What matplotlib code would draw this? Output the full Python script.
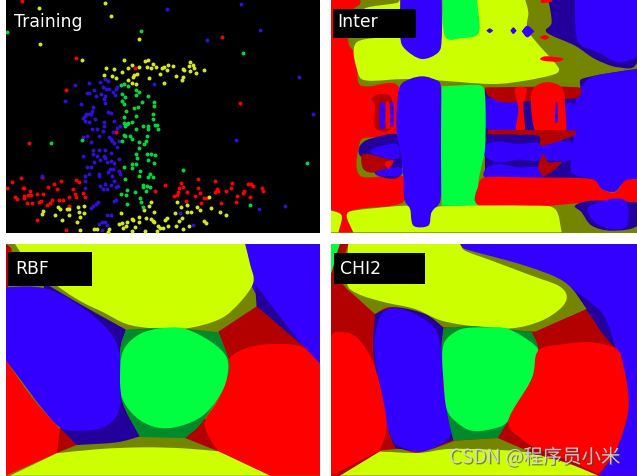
import numpy as np
import matplotlib
matplotlib.use("Agg")
import matplotlib.pyplot as plt
import matplotlib.patheffects as pe
from matplotlib.path import Path
from matplotlib.patches import PathPatch, Rectangle

RED = "#ff0000"
YELLOW = "#ccff00"
GREEN = "#00ff40"
BLUE = "#3300ff"
D_RED = "#b30000"
OLIVE = "#748500"
D_GREEN = "#008a2c"
D_BLUE = "#23009c"

# training samples (3x zoom pixels)
red_pts = [(67,7),(666,114),(229,177),(199,274),(404,208),(720,312),(347,399),(88,433),(127,535),(37,550),(62,538),(20,567),(68,566),(72,567),(90,575),(110,584),(130,585),(144,565),(163,555),(184,546),(171,570),(218,570),(228,543),(237,550),(248,581),(226,585),(228,595),(256,595),(44,595),(50,600),(73,590),(85,588),(92,588),(72,597),(82,612),(97,612),(118,608),(124,605),(142,618),(150,612),(157,604),(177,604),(190,603),(208,595),(207,621),(110,662),(198,692),(495,558),(544,552),(548,565),(536,568),(534,578),(530,587),(522,592),(560,580),(595,540),(593,568),(600,582),(585,590),(557,607),(604,612),(612,597),(620,598),(646,546),(650,570),(655,575),(644,578),(678,577),(696,553),(694,567),(711,590),(733,577),(729,583),(745,556),(752,556),(758,560),(786,567),(789,577),(751,594),(709,610),(664,613),(466,577)]
yellow_pts = [(116,28),(314,13),(334,50),(417,121),(121,136),(247,183),(371,183),(317,208),(342,211),(365,218),(385,207),(395,197),(418,204),(436,185),(443,183),(460,195),(442,203),(454,208),(469,205),(485,207),(491,204),(503,198),(518,200),(502,212),(481,225),(528,230),(550,210),(553,214),(571,190),(567,202),(570,217),(580,198),(583,207),(588,222),(613,212),(549,234),(545,243),(493,252),(448,238),(412,226),(403,228),(400,235),(384,243),(397,252),(408,254),(313,229),(335,231),(349,237),(130,635),(127,645),(175,625),(180,629),(200,631),(207,630),(235,625),(252,622),(236,640),(253,642),(165,648),(187,662),(208,649),(241,655),(232,670),(241,692),(283,690),(290,690),(327,690),(325,698),(363,643),(358,675),(365,672),(380,670),(368,688),(378,681),(395,660),(400,662),(417,653),(416,670),(405,684),(396,697),(439,656),(452,660),(458,665),(462,668),(463,638),(453,610),(447,622),(432,632),(495,662),(500,658),(475,680),(480,688),(488,686),(503,682),(527,680),(548,690),(568,680),(537,665),(546,656),(526,642),(542,623),(532,610),(562,618),(562,640),(574,640),(592,625),(601,633),(633,628),(628,593),(660,638),(679,648),(613,667),(618,672),(436,697),(470,697)]
blue_pts = [(502,31),(723,15),(780,93),(622,123),(897,234),(939,345),(708,422),(856,620),(778,631),(226,257),(195,306),(243,316),(268,252),(301,248),(316,240),(325,245),(282,272),(262,283),(268,282),(288,291),(304,286),(310,265),(318,270),(326,270),(340,278),(348,270),(352,265),(345,287),(316,292),(312,300),(314,311),(279,323),(275,335),(323,338),(334,342),(259,345),(256,352),(268,345),(249,358),(254,365),(266,368),(273,345),(285,360),(311,370),(343,365),(312,382),(277,391),(290,391),(360,380),(350,388),(340,400),(310,395),(248,413),(262,410),(297,411),(272,430),(327,415),(337,425),(343,432),(332,420),(358,425),(352,445),(280,452),(297,452),(316,453),(333,463),(280,465),(290,470),(311,470),(316,477),(250,472),(356,480),(300,482),(283,490),(334,487),(322,490),(343,492),(260,503),(274,505),(330,510),(338,510),(325,518),(297,525),(297,530),(268,524),(256,530),(358,517),(360,525),(335,530),(343,545),(256,546),(316,555),(300,562),(310,570),(322,570),(332,558),(347,565),(355,560),(254,567),(349,603),(342,607),(295,608),(288,615),(280,622),(273,626),(322,647),(332,647),(307,668),(315,670),(296,675),(321,678),(305,692),(125,530),(463,254),(540,643),(578,678)]
green_pts = [(22,100),(423,95),(729,163),(154,431),(247,423),(922,491),(550,514),(750,618),(363,258),(372,255),(385,260),(407,273),(418,280),(366,286),(376,294),(445,290),(408,287),(367,306),(371,314),(426,309),(462,309),(463,322),(377,335),(402,326),(415,323),(407,352),(373,355),(458,346),(458,360),(373,373),(380,375),(395,370),(385,373),(376,382),(428,382),(445,380),(465,378),(470,377),(475,390),(445,390),(408,390),(371,408),(376,412),(390,410),(396,420),(440,412),(437,425),(432,435),(416,430),(367,425),(417,446),(408,466),(441,466),(452,464),(465,467),(412,477),(444,483),(462,492),(407,495),(395,495),(396,507),(372,503),(421,517),(450,525),(445,535),(458,535),(375,540),(418,532),(440,560),(428,558),(430,565),(450,563),(437,575),(406,578),(381,572),(362,585),(378,587),(420,597),(422,608),(382,616),(430,625)]

# decision regions, painted in this order (a doubled point gives a hard corner)
inter_regions = [
    (D_BLUE, [(670,0),(670,0),(750,0),(760,40),(936,40),(936,190),(880,205),(810,180),(750,140),(665,100),(680,70)]),
    (BLUE, [(750,0),(750,0),(936,0),(936,0),(936,175),(936,175),(880,190),(820,160),(760,130),(750,45)]),
    (D_BLUE, [(770,240),(880,218),(936,210),(936,210),(936,540),(480,540),(480,540),(480,270),(480,270),(760,270)]),
    (BLUE, [(790,240),(880,218),(936,212),(936,212),(936,545),(936,545),(900,545),(870,578),(830,570),(805,540),(740,520),(745,440),(750,320)]),
    (BLUE, [(482,300),(482,300),(575,300),(575,395),(482,385)]),
    (BLUE, [(478,440),(520,428),(580,435),(640,432),(650,462),(640,485),(580,482),(520,490),(478,470)]),
    (BLUE, [(482,510),(520,495),(580,505),(650,505),(650,535),(482,535)]),
    (BLUE, [(660,432),(750,432),(750,480),(660,480)]),
    (BLUE, [(720,320),(750,320),(750,395),(720,395)]),
    (D_RED, [(480,265),(480,265),(760,265),(760,295),(700,300),(540,310),(490,290)]),
    (RED, [(620,280),(660,250),(710,265),(720,320),(718,410),(650,415),(625,380)]),
    (RED, [(570,270),(605,270),(595,320),(600,395),(585,408),(572,395),(580,330)]),
    (D_RED, [(490,392),(490,392),(750,395),(750,408),(650,440),(640,410),(490,405)]),
    (D_RED, [(640,505),(655,465),(670,490),(710,490),(660,530)]),
    (BLUE, [(692,310),(692,310),(697,310),(697,310),(698,368),(690,368)]),
    (RED, [(18,0),(18,0),(100,0),(105,15),(80,40),(70,130),(95,170),(100,250),(130,262),(220,262),(225,410),(140,415),(105,430),(105,530),(230,530),(240,600),(200,620),(100,630),(65,650),(85,700),(85,700),(40,700),(40,700),(50,650),(18,632),(18,632)]),
    (D_RED, [(140,300),(165,285),(200,300),(195,390),(150,385),(150,320)]),
    (BLUE, [(165,315),(180,315),(180,385),(165,385)]),
    (BLUE, [(195,310),(205,310),(205,380),(195,380)]),
    (RED, [(183,310),(193,310),(195,385),(183,385)]),
    (D_BLUE, [(105,440),(140,418),(225,412),(225,530),(155,528),(145,490),(105,470)]),
    (BLUE, [(140,450),(215,435),(215,480),(145,465)]),
    (D_RED, [(110,470),(130,465),(205,490),(150,520),(115,510)]),
    (BLUE, [(160,515),(225,505),(225,530),(155,528)]),
    (RED, [(180,490),(205,485),(190,510)]),
    (YELLOW, [(95,130),(225,115),(225,115),(350,118),(350,118),(355,0),(355,0),(600,0),(600,0),(610,40),(612,100),(700,205),(690,225),(600,245),(500,255),(350,245),(240,240),(130,245),(100,225)]),
    (YELLOW, [(120,28),(215,12),(226,0),(226,0),(226,40),(226,60),(130,60)]),
    (BLUE, [(226,0),(226,0),(350,0),(350,0),(350,118),(340,160),(290,180),(240,150),(226,115)]),
    (GREEN, [(352,0),(352,0),(455,0),(455,0),(462,100),(410,117),(360,112)]),
    (BLUE, [(225,262),(255,240),(290,232),(320,238),(347,258),(348,400),(347,600),(320,640),(310,680),(265,680),(255,630),(238,600),(235,530),(225,450),(215,400),(215,330)]),
    (GREEN, [(350,262),(350,262),(460,258),(478,275),(482,350),(480,450),(470,500),(460,550),(458,620),(458,620),(350,620),(350,620),(348,450)]),
    (RED, [(480,535),(600,535),(800,540),(830,570),(870,580),(900,545),(936,540),(936,540),(936,610),(936,610),(800,610),(600,625),(460,618),(460,560)]),
    (D_BLUE, [(750,620),(800,605),(936,610),(936,610),(936,680),(860,695),(800,680),(770,640)]),
    (BLUE, [(790,625),(860,600),(905,610),(905,680),(860,690),(810,670)]),
    (YELLOW, [(85,635),(240,620),(255,630),(265,680),(310,680),(320,640),(345,622),(620,620),(690,630),(710,700),(710,700),(85,700),(85,700),(65,650)]),
    (YELLOW, [(18,635),(18,635),(50,650),(40,700),(40,700),(18,700),(18,700)]),
    (BLUE, [(484,95),(484,95),(494,88),(505,95),(505,95),(494,102)]),
    (BLUE, [(556,95),(556,95),(565,85),(575,95),(575,95),(565,105)]),
    (BLUE, [(590,97),(590,97),(607,80),(628,97),(628,97),(607,115)]),
    (RED, [(645,180),(660,172),(700,175),(715,180),(700,188),(660,186)]),
    (RED, [(648,0),(648,0),(680,0),(680,0),(680,8),(650,12)]),
    (RED, [(645,115),(660,108),(672,115),(660,122)]),
]
rbf_regions = [
    (D_RED, [(18,15),(18,15),(35,35),(24,145),(18,145)]),
    (BLUE, [(735,15),(735,15),(960,15),(960,15),(960,375),(960,375),(910,325),(765,160),(750,80)]),
    (D_BLUE, [(765,135),(765,135),(915,330),(915,330),(770,205),(770,205)]),
    (D_RED, [(655,278),(655,278),(770,202),(770,202),(920,330),(920,330),(700,400),(685,360)]),
    (D_RED, [(555,597),(555,597),(615,540),(655,637),(655,637)]),
    (RED, [(960,375),(960,375),(910,325),(850,315),(780,318),(720,335),(685,365),(680,420),(650,490),(615,545),(625,590),(655,637),(655,637),(810,710),(810,710),(960,710),(960,710)]),
    (YELLOW, [(45,15),(45,15),(735,15),(735,15),(750,75),(760,130),(720,190),(660,240),(560,268),(460,268),(380,255),(310,220),(230,180),(130,110),(70,50)]),
    (D_BLUE, [(130,130),(130,130),(240,195),(320,240),(378,272),(378,272),(360,340),(365,480),(420,592),(420,592),(350,610),(230,618),(230,618),(180,565)]),
    (D_GREEN, [(378,272),(378,272),(460,268),(560,270),(655,280),(655,280),(685,360),(680,420),(610,545),(555,597),(555,597),(420,594),(420,594),(365,480),(360,340)]),
    (GREEN, [(360,380),(375,325),(420,285),(480,268),(550,268),(620,300),(670,340),(685,380),(670,450),(620,520),(560,555),(490,568),(430,550),(385,510),(362,460)]),
    (BLUE, [(18,145),(18,145),(100,143),(170,160),(260,215),(330,280),(358,340),(360,430),(362,480),(350,530),(310,565),(240,575),(180,565),(120,500),(60,420),(18,365),(18,365)]),
    (RED, [(18,365),(18,365),(100,480),(180,570),(180,570),(170,642),(170,642),(18,710),(18,710)]),
    (D_RED, [(180,567),(180,567),(230,618),(230,618),(170,642),(170,642)]),
    (YELLOW, [(170,643),(170,643),(300,630),(430,625),(550,628),(655,637),(655,637),(810,710),(810,710),(30,710),(30,710)]),
]
chi2_regions = [
    (BLUE, [(405,15),(405,15),(936,15),(936,15),(936,710),(936,710),(820,710),(820,710),(870,640),(905,540),(910,470),(895,380),(875,330),(850,280),(790,215),(720,150),(640,100),(500,60),(430,40)]),
    (D_BLUE, [(700,122),(700,122),(790,185),(840,235),(872,330),(872,330),(830,280),(785,215)]),
    (OLIVE, [(50,130),(100,180),(150,225),(150,225),(210,205),(355,265),(355,265),(630,278),(630,278),(785,210),(785,210),(720,130),(600,80),(420,30),(405,15),(405,15),(70,15),(70,15),(50,80)]),
    (YELLOW, [(70,15),(70,15),(405,15),(405,15),(420,35),(500,65),(620,110),(700,140),(725,170),(710,205),(650,245),(560,268),(450,262),(350,245),(270,210),(180,190),(100,165),(65,130)]),
    (D_BLUE, [(150,225),(150,225),(210,205),(300,225),(355,265),(355,265),(350,340),(360,500),(390,600),(390,600),(300,635),(225,630),(205,615),(170,500),(145,340)]),
    (BLUE, [(150,290),(170,225),(210,207),(270,225),(330,270),(350,340),(355,440),(365,510),(380,580),(340,620),(285,638),(230,625),(205,605),(180,540),(165,440),(150,350)]),
    (D_GREEN, [(355,268),(355,268),(450,262),(620,278),(620,278),(640,335),(620,420),(550,545),(518,597),(518,597),(385,605),(385,605),(365,510),(350,340)]),
    (GREEN, [(352,340),(365,300),(410,270),(480,265),(550,270),(625,315),(640,345),(620,420),(550,545),(500,570),(440,575),(395,550),(365,510),(355,420)]),
    (RED, [(640,335),(720,315),(800,310),(875,330),(895,380),(910,470),(905,540),(870,640),(820,705),(820,705),(720,660),(640,630),(590,600),(550,545),(620,420)]),
    (RED, [(18,295),(60,280),(100,300),(140,360),(165,440),(185,560),(165,635),(165,635),(18,710),(18,710)]),
    (OLIVE, [(165,635),(165,635),(225,630),(285,640),(390,605),(390,605),(518,597),(518,597),(640,650),(640,650),(400,660)]),
    (YELLOW, [(45,710),(45,710),(165,637),(165,637),(280,642),(370,630),(500,632),(600,640),(720,670),(820,710),(820,710)]),
    (GREEN, [(18,15),(18,15),(45,15),(45,15),(35,45),(20,100),(18,100)]),
]

panel_labels = ["Training", "Inter", "RBF", "CHI2"]
watermark = "CSDN @程序员小米"


def clamp(v, limit):
    n = np.hypot(v[0], v[1])
    return v * limit / n if n > limit else v


def blob(ax, pts, color):
    # closed catmull-rom curve, handles clamped so doubled points stay sharp
    p = np.array(pts, dtype=float)
    n = len(p)
    verts = [p[0]]
    codes = [Path.MOVETO]
    for i in range(n):
        p0, p1, p2, p3 = p[i - 1], p[i], p[(i + 1) % n], p[(i + 2) % n]
        L = np.hypot(*(p2 - p1)) / 2
        verts += [p1 + clamp((p2 - p0) / 6, L), p2 - clamp((p3 - p1) / 6, L), p2]
        codes += [Path.CURVE4] * 3
    ax.add_patch(PathPatch(Path(verts, codes), facecolor=color, edgecolor="none", lw=0))


def make_panel(fig, box, xlim, ylim, base):
    # box is left, top, right, bottom in picture pixels
    W, H = 637, 477
    ax = fig.add_axes([box[0] / W, 1 - box[3] / H, (box[2] - box[0]) / W, (box[3] - box[1]) / H])
    ax.set_xlim(xlim)
    ax.set_ylim(ylim)
    ax.set_facecolor(base)
    ax.set_xticks([])
    ax.set_yticks([])
    for s in ax.spines.values():
        s.set_visible(False)
    return ax


def add_label(ax, text, x, y, rect=None):
    if rect is not None:
        ax.add_patch(Rectangle((rect[0], rect[1]), rect[2] - rect[0], rect[3] - rect[1],
                               facecolor="black", edgecolor="none", zorder=5))
    ax.text(x, y, text, color="white", fontsize=12.4, va="baseline", ha="left",
            family="DejaVu Sans", zorder=6)


fig = plt.figure(figsize=(6.37, 4.77), dpi=100)

ax_train = make_panel(fig, (6, 0, 320, 234), (18, 960), (702, 0), "black")
for pts, color in [(red_pts, RED), (yellow_pts, "#d4e820"), (blue_pts, "#3010d8"), (green_pts, "#00d840")]:
    a = np.array(pts)
    ax_train.scatter(a[:, 0], a[:, 1], s=8, c=color, linewidths=0)
add_label(ax_train, panel_labels[0], 42, 81)

ax_inter = make_panel(fig, (331, 0, 637, 234), (18, 936), (702, 0), OLIVE)
for color, pts in inter_regions:
    blob(ax_inter, pts, color)
add_label(ax_inter, panel_labels[1], 38, 81, (24, 30, 272, 116))

ax_rbf = make_panel(fig, (6, 245, 320, 477), (18, 960), (711, 15), OLIVE)
for color, pts in rbf_regions:
    blob(ax_rbf, pts, color)
add_label(ax_rbf, panel_labels[2], 45, 102, (24, 38, 275, 140))

ax_chi2 = make_panel(fig, (331, 245, 637, 477), (18, 936), (711, 15), D_RED)
for color, pts in chi2_regions:
    blob(ax_chi2, pts, color)
add_label(ax_chi2, panel_labels[3], 46, 102, (28, 42, 300, 134))

fig.text(449 / 637, 1 - 464 / 477, watermark, color="#d8d8d8", fontsize=14,
         family=["Noto Sans CJK SC", "DejaVu Sans"], alpha=0.9, zorder=10,
         path_effects=[pe.withSimplePatchShadow(offset=(1, -1), shadow_rgbFace="#404040", alpha=0.6)])

fig.savefig("out.png", dpi=100)
